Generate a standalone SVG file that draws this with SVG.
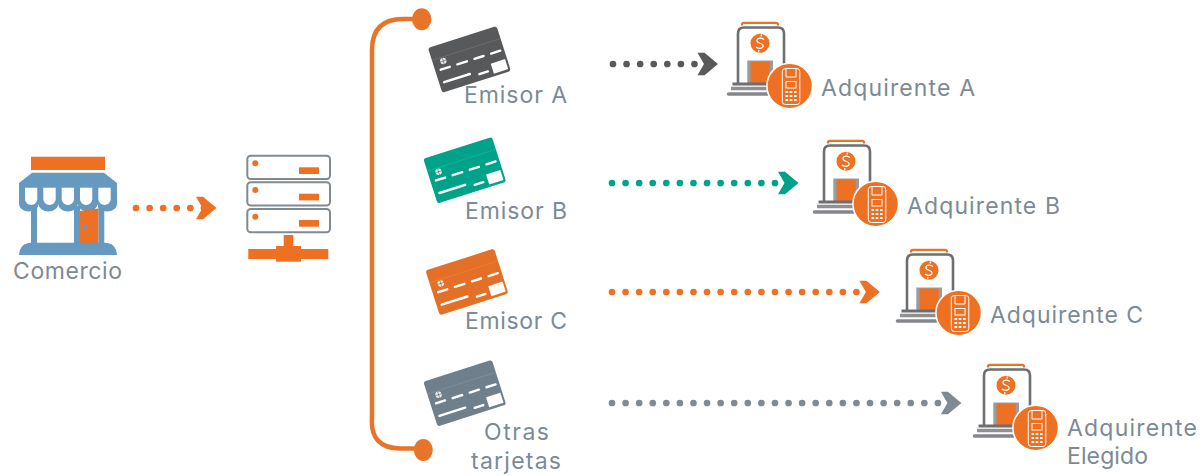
<svg xmlns="http://www.w3.org/2000/svg" width="1202" height="476" viewBox="0 0 1202 476">
<style>
text{font-family:"Inter","Liberation Sans",sans-serif;font-size:23px;fill:#7c8a96}
.o{fill:#ee7023}.b{fill:#6699c0}.w{fill:#fff}
.srv{fill:#fff;stroke:#7f8a92;stroke-width:2}
.dots{fill:none;stroke-width:6.7;stroke-linecap:round;stroke-dasharray:0 13.58}
.cd{fill:#fff}.cl{fill:none;stroke:#fff;stroke-width:2.400;stroke-linecap:round}
</style>
<defs>
<g id="card">
<rect width="72" height="47" rx="2.5"/>
<path d="M0 13H72" stroke="#fff" stroke-opacity=".15" stroke-width=".7"/>
<circle cx="10.600" cy="17" r="3.200" fill="#fff" opacity=".85"/>
<path d="M10.600 13.800V20.200M7.400 17H13.800" stroke="#000" stroke-opacity=".4" stroke-width=".8"/>
<path class="cl" d="M5.500 24.500H15M23 24.500H33M41 24.500H50.500M58.500 24.500H68M5 37.500H32M41 40.500H50"/>
<rect class="cd" x="55" y="34" width="15" height="10.500"/>
</g>
<g id="acq">
<path d="M742 25.500V24.500Q742 22.800 744 22.800H776Q778 22.800 778 24.500V25.500" fill="none" stroke="#ee7023" stroke-width="2.200"/>
<path d="M738 84V33.500Q738 27.500 744 27.500H778Q784 27.500 784 33.500V70" fill="none" stroke="#6d6e71" stroke-width="2.600"/>
<circle cx="760" cy="43.300" r="9.500" class="o"/>
<path d="M764 39.500Q760.500 37 757.500 39Q755.500 41.500 760 43.300Q764.500 45 762.500 47.500Q759.500 49.500 756 47M761 36.500L761.500 34.500M759 50L758.500 52" fill="none" stroke="#fff" stroke-width="1.200"/>
<rect x="747.300" y="60.500" width="25.700" height="23.500" fill="#9a9b9d"/>
<rect x="750.700" y="61.500" width="19" height="22.500" class="o"/>
<path d="M732.500 84H772" stroke="#6d6e71" stroke-width="3" fill="none"/>
<path d="M731 88.500H772" stroke="#8f9092" stroke-width="3.500" fill="none"/>
<path d="M728.500 94H772" stroke="#85878a" stroke-width="3.500" stroke-linecap="round" fill="none"/>
<circle cx="789.700" cy="86" r="22.800" class="o" stroke="#fff" stroke-width="1.500"/>
<g fill="none" stroke="#fff" stroke-width="1">
<rect x="782.300" y="68.500" width="17.500" height="36" rx="3"/>
<rect x="786" y="81.500" width="10" height="6.500"/>
<path d="M786 68.500V77H796V68.500"/>
</g>
<path d="M785.500 92h2.600M789.700 92h2.600M794 92h2.600M785.500 96h2.600M789.700 96h2.600M794 96h2.600M785.500 100h2.600M789.700 100h2.600M794 100h2.600" stroke="#fff" stroke-width="1.800"/>
</g>
<marker id="chev" markerUnits="userSpaceOnUse" markerWidth="24" markerHeight="24" refX="-2.500" refY="11.200" orient="auto" viewBox="0 0 24 24" overflow="visible">
<path d="M0 0H7L20.500 11.200L7 22.400H0L6.500 11.200Z" fill="context-stroke"/>
</marker>
<marker id="chev2" markerUnits="userSpaceOnUse" markerWidth="24" markerHeight="24" refX="8.400" refY="11.200" orient="auto" viewBox="0 0 24 24" overflow="visible">
<path d="M0 0H7L20.500 11.200L7 22.400H0L6.500 11.200Z" fill="context-stroke"/>
</marker>
</defs>

<g id="comercio">
<rect class="o" x="31" y="156.700" width="74" height="13.300"/>
<path class="b" d="M32 172.700H104L117 183V204a9.800 7.500 0 0 1-19.600 0a9.800 7.500 0 0 1-19.600 0a9.800 7.500 0 0 1-19.600 0a9.800 7.500 0 0 1-19.600 0a9.800 7.500 0 0 1-19.600 0V183Z"/>
<path class="w" d="M25 187.700H37.300V199a6.150 6 0 0 1-12.300 0ZM43.300 187.700H55.700V199a6.200 6 0 0 1-12.400 0ZM61.700 187.700H74V199a6.150 6 0 0 1-12.300 0ZM80 187.700H92.300V199a6.150 6 0 0 1-12.300 0ZM98.300 187.700H110.700V199a6.200 6 0 0 1-12.400 0Z"/>
<rect class="b" x="31" y="206" width="6" height="38"/>
<rect class="b" x="74" y="206" width="6" height="38"/>
<rect class="b" x="98.300" y="206" width="6" height="38"/>
<path class="o" d="M80 211L98.300 208.500V243H80Z"/>
<circle class="b" cx="85" cy="226.700" r="2.300"/>
<path class="b" d="M19 255Q20 243 31 242.700H105Q116 243 117 255Z"/>
<text x="13" y="279" textLength="109">Comercio</text>
</g>

<g id="servidor">
<rect class="srv" x="247.300" y="155.700" width="82.700" height="23.300" rx="3.500"/>
<rect class="srv" x="247.300" y="182.300" width="82.700" height="23.300" rx="3.500"/>
<rect class="srv" x="247.300" y="209" width="82.700" height="23.300" rx="3.500"/>
<g class="o">
<circle cx="255.300" cy="163.300" r="3"/><circle cx="255.300" cy="190" r="3"/><circle cx="255.300" cy="216.700" r="3"/>
<rect x="299" y="167.300" width="20" height="6.700"/><rect x="299" y="193.700" width="20" height="6.700"/><rect x="299" y="220" width="20" height="6.700"/>
<rect x="283.700" y="235" width="9.600" height="14"/><rect x="248.300" y="249" width="80" height="10"/><rect x="276" y="246" width="25" height="15.700"/>
</g>
</g>

<g id="corchete">
<path d="M422 19H403Q372 19 372 50V418Q370 448 400 448.500H423" fill="none" stroke="#e8742a" stroke-width="4.500"/>
<ellipse cx="421.700" cy="19.300" rx="9.700" ry="11" fill="#e8742a"/>
<ellipse cx="423.300" cy="450" rx="9.500" ry="11" fill="#e8742a"/>
</g>

<g id="emisor-a">
<use href="#card" transform="translate(428 48) rotate(-17.700)" fill="#58595b"/>
<text x="464" y="103" textLength="103">Emisor A</text>
</g>
<g id="emisor-b">
<use href="#card" transform="translate(423.300 158.800) rotate(-17.700)" fill="#00a389"/>
<text x="465" y="219" textLength="102">Emisor B</text>
</g>
<g id="emisor-c">
<use href="#card" transform="translate(425.500 270.500) rotate(-17.700)" fill="#e46f26"/>
<text x="465" y="329" textLength="102">Emisor C</text>
</g>
<g id="emisor-otras">
<use href="#card" transform="translate(423.300 381.700) rotate(-17.700)" fill="#6f7f8c"/>
<text x="484" y="440" textLength="65">Otras</text>
<text x="471" y="469" textLength="90">tarjetas</text>
</g>

<g id="adquirente-a">
<use href="#acq"/>
<text x="821" y="96" textLength="154">Adquirente A</text>
</g>
<g id="adquirente-b">
<use href="#acq" transform="translate(86 118)"/>
<text x="907" y="214" textLength="153">Adquirente B</text>
</g>
<g id="adquirente-c">
<use href="#acq" transform="translate(169 227)"/>
<text x="990" y="323" textLength="153">Adquirente C</text>
</g>
<g id="adquirente-d">
<use href="#acq" transform="translate(246 342)"/>
<text x="1067" y="436" textLength="130">Adquirente</text>
<text x="1067" y="464" textLength="81">Elegido</text>
</g>

<g id="conectores">
<line class="dots" x1="136" y1="208" x2="204.400" y2="208" stroke="#ee7023" marker-end="url(#chev2)"/>
<line class="dots" x1="613" y1="64" x2="695" y2="64" stroke="#58595b" marker-end="url(#chev)"/>
<line class="dots" x1="612" y1="183" x2="775.500" y2="183" stroke="#00a389" marker-end="url(#chev)"/>
<line class="dots" x1="612" y1="292" x2="856.900" y2="292" stroke="#ee7023" marker-end="url(#chev)"/>
<line class="dots" x1="612" y1="403" x2="938.400" y2="403" stroke="#7f8a92" marker-end="url(#chev)"/>
</g>
</svg>
